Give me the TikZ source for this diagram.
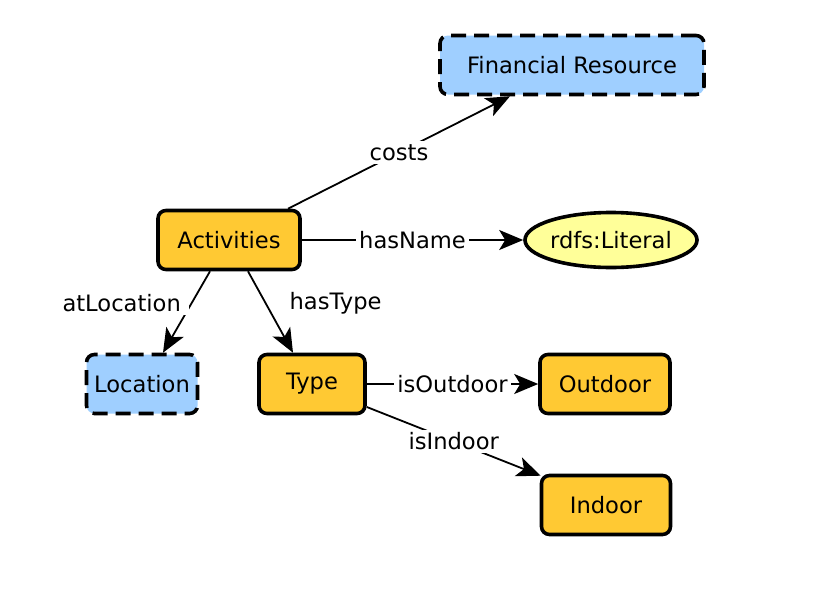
\documentclass[tikz,border=0pt]{standalone}
\usepackage{fontspec}
\setmainfont{DejaVu Sans}
\usetikzlibrary{arrows.meta,shapes.geometric,calc}
\definecolor{orangefill}{HTML}{FFC933}
\definecolor{bluefill}{HTML}{9FCFFF}
\definecolor{yellowfill}{HTML}{FFFF99}
\begin{document}
\begin{tikzpicture}[x=0.5pt,y=-0.5pt,
  every node/.style={font=\fontsize{11.3}{13}\selectfont},
  cls/.style={draw, line width=1.8pt, rounded corners=4pt, fill=orangefill, minimum height=29.5pt, inner sep=0pt},
  ext/.style={cls, fill=bluefill, dash pattern=on 7.5pt off 4pt},
  litnode/.style={draw, ellipse, line width=1.8pt, fill=yellowfill, minimum width=83.5pt, minimum height=27.5pt, inner sep=0pt},
  rel/.style={draw, line width=0.9pt, -{Stealth[length=12pt,width=10pt,inset=3pt]}},
  lbl/.style={fill=white, inner sep=1.5pt}
]
\useasboundingbox (0,0) rectangle (814,600);

\node[ext, minimum width=132pt] (fin) at (572,65) {Financial Resource};
\node[cls, minimum width=71pt] (act) at (229,240) {Activities};
\node[litnode] (lit) at (611,240) {rdfs:Literal};
\node[ext, minimum width=55.5pt] (loc) at (142,384) {Location};
\node[cls, minimum width=53pt] (typ) at (312,384) {Type};
\node[cls, minimum width=65pt] (out) at (605,384) {Outdoor};
\node[cls, minimum width=64.5pt] (ind) at (606,505) {Indoor};

\draw[rel] ($(act.north)+(59,0)$) -- node[lbl] {costs} ($(fin.south)+(-62,0)$);
\draw[rel] (act.east) -- node[lbl] {hasName} (lit.west);
\draw[rel] ($(act.south)+(-19,0)$) -- node[lbl, pos=0.39, xshift=-35pt, inner xsep=4pt] {atLocation} ($(loc.north)+(21,0)$);
\draw[rel] ($(act.south)+(19,0)$) -- node[lbl, pos=0.39, xshift=35pt] {hasType} ($(typ.north)+(-19,0)$);
\draw[rel] (typ.east) -- node[lbl] {isOutdoor} (out.west);
\draw[rel] ($(typ.east)+(0,23)$) -- node[lbl] {isIndoor} ($(ind.north west)+(1,2)$);
\end{tikzpicture}
\end{document}
